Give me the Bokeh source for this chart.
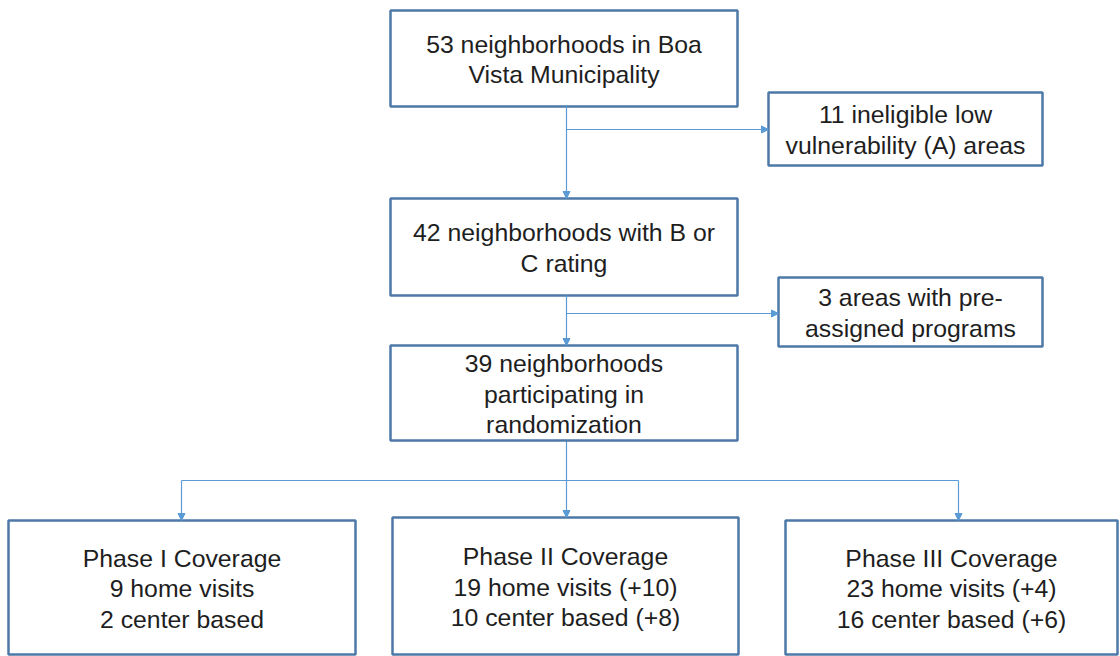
from bokeh.plotting import figure
from bokeh.models import Range1d, ColumnDataSource, Arrow, NormalHead
from bokeh.core.properties import value
from bokeh.embed import file_html
from bokeh.resources import INLINE

# ---- content (box texts) ----
box_texts = [
    ["53 neighborhoods in Boa", "Vista Municipality"],
    ["11 ineligible low", "vulnerability (A) areas"],
    ["42 neighborhoods with B or", "C rating"],
    ["3 areas with pre-", "assigned programs"],
    ["39 neighborhoods", "participating in", "randomization"],
    ["Phase I Coverage", "9 home visits", "2 center based"],
    ["Phase II Coverage", "19 home visits (+10)", "10 center based (+8)"],
    ["Phase III Coverage", "23 home visits (+4)", "16 center based (+6)"],
]

# ---- layout (page pixel coordinates) ----
box_left = [390, 768, 390, 778, 390, 8, 392, 785]
box_right = [737, 1042, 737, 1042, 737, 355, 738, 1117]
box_top = [10, 92, 198, 277, 345, 520, 517, 520]
box_bottom = [106, 165, 295, 346, 440, 654, 654, 654]

# connector lines: (x0, y0, x1, y1, has_arrow)
connectors = [
    (566, 106, 566, 198, True),
    (566, 129, 768, 129, True),
    (566, 295, 566, 345, True),
    (566, 313, 778, 313, True),
    (566, 440, 566, 480, False),
    (181, 480, 958, 480, False),
    (181, 480, 181, 520, True),
    (566, 480, 566, 517, True),
    (958, 480, 958, 520, True),
]

W, H = 1120, 656
LINE_H = 30.5
BOX_COLOR = "#4d79a8"
ARROW_COLOR = "#5b9bd5"
TEXT_COLOR = "#1e1e1e"

p = figure(width=W, height=H, x_range=Range1d(0, W), y_range=Range1d(H, 0),
           output_backend="svg", toolbar_location=None, min_border=0)
p.axis.visible = False
p.grid.visible = False
p.outline_line_color = None
p.background_fill_color = "white"
p.border_fill_color = "white"

# connectors
for x0, y0, x1, y1, arr in connectors:
    if arr:
        p.add_layout(Arrow(end=NormalHead(size=7, fill_color=ARROW_COLOR, line_color=ARROW_COLOR),
                           x_start=x0, y_start=y0, x_end=x1, y_end=y1,
                           line_color=ARROW_COLOR, line_width=1.2))
    else:
        p.segment(x0=[x0], y0=[y0], x1=[x1], y1=[y1], line_color=ARROW_COLOR, line_width=1.2)

# boxes
qsrc = ColumnDataSource(dict(left=box_left, right=box_right, top=box_top, bottom=box_bottom))
p.quad(left="left", right="right", top="top", bottom="bottom", source=qsrc,
       fill_color="white", line_color=BOX_COLOR, line_width=2.5)

# texts
xs, ys, ts = [], [], []
for lines, l, r, t, b in zip(box_texts, box_left, box_right, box_top, box_bottom):
    cx = (l + r) / 2
    cy = (t + b) / 2 + 1
    n = len(lines)
    for i, s in enumerate(lines):
        xs.append(cx)
        ys.append(cy + (i - (n - 1) / 2) * LINE_H)
        ts.append(s)
tsrc = ColumnDataSource(dict(x=xs, y=ys, text=ts))
p.text(x="x", y="y", text="text", source=tsrc, text_align="center", text_baseline="middle",
       text_font=value("Liberation Sans"), text_font_size="24.8px", text_color=TEXT_COLOR)

open("out.html", "w").write(file_html(p, INLINE))
